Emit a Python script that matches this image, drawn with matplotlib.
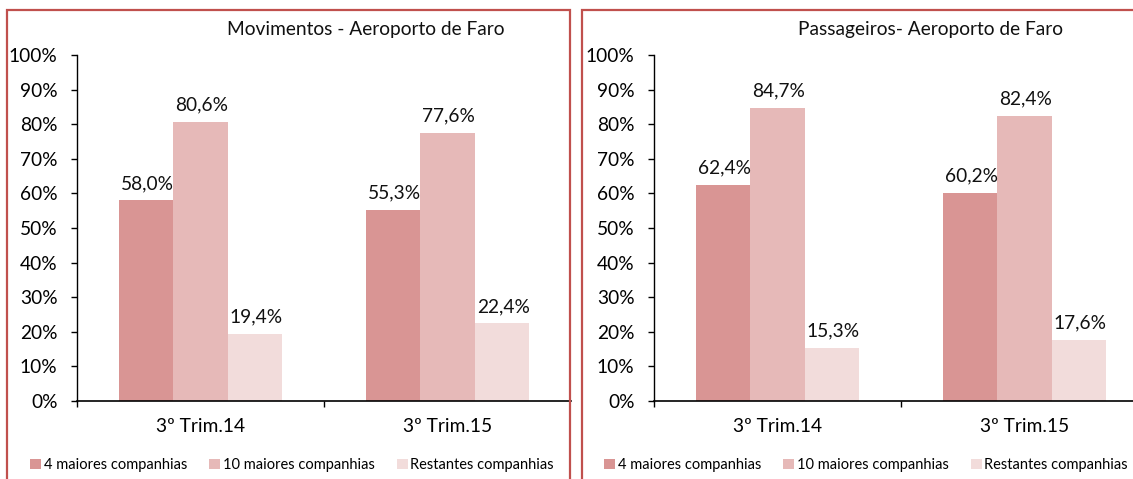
import matplotlib
matplotlib.use("Agg")
import matplotlib.pyplot as plt
from matplotlib.patches import Rectangle, Patch
import numpy as np

plt.rcParams["font.family"] = ["Lato", "DejaVu Sans"]

categories = ["3º Trim.14", "3º Trim.15"]
series_names = ["4 maiores companhias", "10 maiores companhias", "Restantes companhias"]
colors = ["#d99594", "#e6b9b8", "#f2dcdb"]

mov_top4 = [58.0, 55.3]
mov_top10 = [80.6, 77.6]
mov_rest = [19.4, 22.4]

pax_top4 = [62.4, 60.2]
pax_top10 = [84.7, 82.4]
pax_rest = [15.3, 17.6]

W, H = 1133, 479
fig = plt.figure(figsize=(W / 100, H / 100), dpi=100)
FS = 13.8


def fx(px):
    return px / W


def fy(py):
    # py measured from top
    return 1 - py / H


def panel(x0, title, title_x, values, frame_x0, frame_x1, legend_cx):
    # red frame round each chart
    fig.patches.append(Rectangle((fx(frame_x0), fy(H + 10)), fx(frame_x1 - frame_x0),
                                 fy(10) - fy(H + 10), transform=fig.transFigure,
                                 fill=False, edgecolor="#c0504d", linewidth=1.6, zorder=10))
    ax = fig.add_axes([fx(x0), fy(401), fx(494), fy(55) - fy(401)])
    x = np.arange(len(categories))
    bw = 0.22
    for i, (vals, c, name) in enumerate(zip(values, colors, series_names)):
        pos = x + (i - 1) * bw
        ax.bar(pos, vals, width=bw, color=c, edgecolor="none", label=name)
        for p, v in zip(pos, vals):
            ax.annotate(f"{v:.1f}%".replace(".", ","), (p, v), xytext=(1, 6),
                        textcoords="offset points", ha="center", va="bottom",
                        fontsize=FS, color="#111111")
    ax.set_xlim(-0.5, 1.5)
    ax.set_ylim(0, 100)
    ax.set_yticks(np.arange(0, 101, 10))
    ax.set_yticklabels([f"{t}%" for t in range(0, 101, 10)])
    ax.set_xticks(x)
    ax.set_xticklabels(categories)
    ax.set_xticks([-0.5, 0.5], minor=True)
    ax.tick_params(axis="x", which="major", length=0, pad=12, labelsize=FS)
    ax.tick_params(axis="x", which="minor", length=4, width=1, direction="out")
    ax.tick_params(axis="y", length=4, width=1, direction="out", pad=10, labelsize=FS)
    for s in ["top", "right"]:
        ax.spines[s].set_visible(False)
    ax.spines["left"].set_linewidth(1)
    ax.spines["bottom"].set_linewidth(1.2)
    ax.patch.set_alpha(0)
    fig.text(fx(title_x), fy(30), title, ha="center", va="center", fontsize=FS, color="#111111")
    leg_handles = [Patch(facecolor=c, edgecolor="none") for c in colors]
    fig.legend(leg_handles, series_names, loc="center", ncol=3,
               bbox_to_anchor=(fx(legend_cx), fy(465)), frameon=False,
               fontsize=10.5, handlelength=0.75, handleheight=0.75,
               handletextpad=0.2, columnspacing=1.5)
    return ax


panel(77, "Movimentos - Aeroporto de Faro", 366, [mov_top4, mov_top10, mov_rest], 7, 569.5, 292)
panel(654, "Passageiros- Aeroporto de Faro", 931, [pax_top4, pax_top10, pax_rest], 582, 1160, 866)

fig.savefig("out.png", dpi=100)
